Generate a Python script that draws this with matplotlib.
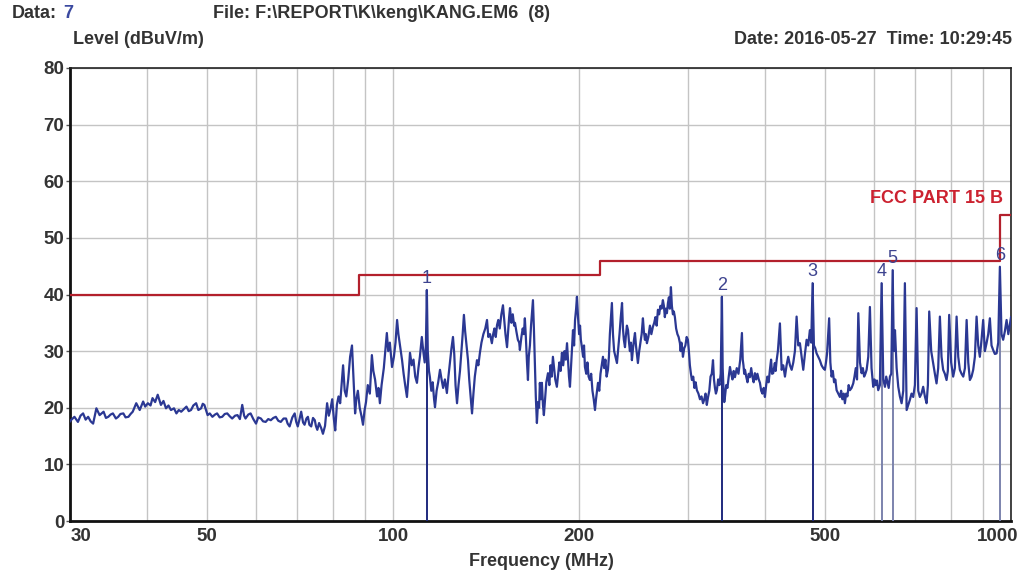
import numpy as np
import matplotlib
matplotlib.use("Agg")
import matplotlib.pyplot as plt
from matplotlib.transforms import ScaledTranslation

plt.rcParams['font.family'] = ['Liberation Sans', 'DejaVu Sans']

freq_a = [30.0, 30.1, 30.5, 30.9, 31.2, 31.5, 31.8, 32.1, 32.4, 32.7, 33.1, 33.5, 34.0, 34.3,
          34.6, 34.9, 35.2, 35.6, 35.9, 36.2, 36.6, 36.9, 37.3, 37.6, 37.9, 38.4, 38.9, 39.4,
          39.7, 40.1, 40.5, 40.8, 41.2, 41.6, 42.1, 42.5, 42.9, 43.3, 43.7, 44.2, 44.6, 45.0,
          45.4, 45.9, 46.3, 46.7, 47.1, 47.5, 48.0, 48.4, 48.9, 49.2, 49.5, 50.1, 50.5, 51.0,
          51.5, 51.9, 52.4, 52.9, 53.4, 53.9, 54.4, 54.9, 55.5, 56.0, 56.5, 57.0, 57.4, 57.7,
          58.3, 58.8, 59.4, 60.0, 60.5, 61.1, 61.6, 62.2, 62.8, 63.4, 64.0, 64.6, 65.2, 65.8,
          66.5, 67.1, 67.5, 68.0, 68.7, 69.3, 69.7, 70.1, 70.5, 71.0, 71.5, 71.9, 72.4, 72.8,
          73.2, 73.7, 74.2, 74.7, 75.0, 75.4, 75.9, 76.5, 77.0, 77.6, 78.2, 78.7, 79.2, 79.7,
          80.2, 80.6]
level_a = [17.6, 17.8, 18.4, 17.5, 18.6, 19.0, 17.9, 18.4, 17.6, 17.2, 19.9, 18.7, 19.3, 18.2,
           18.4, 18.8, 19.0, 18.1, 18.4, 18.9, 19.0, 18.3, 18.4, 18.9, 19.3, 20.8, 19.6, 21.1,
           20.2, 20.8, 20.4, 21.7, 21.0, 22.3, 20.5, 21.2, 19.9, 20.4, 19.6, 19.9, 19.0, 19.6,
           19.3, 19.8, 20.2, 19.4, 19.6, 20.4, 20.8, 19.6, 19.9, 20.7, 20.5, 18.7, 19.0, 18.4,
           18.8, 19.0, 18.3, 18.4, 18.9, 19.0, 18.5, 18.1, 18.6, 18.7, 18.0, 20.5, 18.6, 18.1,
           18.8, 19.0, 18.0, 17.2, 18.3, 18.1, 17.6, 17.5, 18.0, 17.8, 18.2, 18.4, 17.7, 17.5,
           18.1, 18.1, 17.2, 16.7, 18.3, 19.0, 17.5, 16.7, 17.8, 19.3, 17.4, 17.0, 18.1, 18.4,
           17.0, 16.7, 18.2, 17.8, 16.8, 16.1, 17.3, 16.4, 15.4, 16.8, 20.8, 18.6, 19.8, 21.5,
           18.0, 16.0]

freq_b = [81.1, 81.6, 82.1, 82.6, 83.0, 83.5, 84.0, 84.6, 85.2, 85.8, 86.3, 86.8, 87.2, 87.7,
          88.3, 88.9, 89.4, 89.9, 90.4, 91.0, 91.7, 92.4, 92.9, 93.5, 94.2, 94.7, 95.2, 95.8,
          96.6, 97.2, 97.7, 98.2, 98.8, 99.6, 100.3, 100.9, 101.5, 102.0, 102.6, 103.4, 104.0,
          104.6, 105.3, 105.9, 106.5, 107.2, 107.9, 108.6, 109.3, 109.9, 110.5, 111.3, 111.9,
          112.5, 113.0, 113.4, 113.8, 114.3, 114.7, 115.3, 115.9, 116.5, 116.9, 117.6, 118.3,
          119.1, 119.8, 120.5, 121.3, 122.2, 122.9, 123.6, 124.3, 125.0, 125.6, 126.2, 126.9,
          127.6, 128.3, 129.0, 129.6, 130.2, 130.8, 131.5, 132.2, 132.8, 133.5, 134.2, 134.9,
          135.6, 136.7, 137.4, 138.2, 139.0, 140.0, 141.0, 141.9, 142.6, 143.5, 144.5, 145.2,
          145.9, 146.6, 147.3, 148.0, 148.8, 149.7, 150.6, 151.3, 152.0, 152.9, 153.5, 154.1,
          154.6, 155.4, 156.2, 157.0, 157.5, 158.3, 159.2, 160.0, 160.4, 161.3, 162.1, 162.8,
          163.4, 164.0, 164.7, 165.3, 165.8, 166.5, 167.2, 167.9, 168.4, 169.0, 169.6, 170.2,
          170.9, 171.6, 172.3, 172.8, 173.5, 174.1, 174.8, 175.4]
level_b = [20.5, 22.0, 20.8, 24.5, 27.5, 23.0, 22.0, 25.0, 29.0, 31.0, 25.0, 19.0, 21.5, 23.0,
           20.0, 18.5, 17.0, 19.5, 21.0, 24.0, 22.5, 29.3, 26.5, 25.0, 22.0, 23.5, 20.8, 24.0,
           27.0, 30.5, 33.2, 30.0, 31.5, 27.2, 29.0, 31.5, 35.5, 33.0, 31.0, 28.4, 26.0,
           24.0, 21.9, 25.5, 29.7, 27.5, 28.5, 25.5, 24.4, 27.0, 29.0, 32.5, 30.0,
           28.0, 31.0, 40.8, 30.0, 26.5, 25.4, 23.0, 24.5, 21.5, 20.1, 23.0, 24.5,
           26.7, 25.0, 23.5, 25.0, 22.6, 25.5, 28.0, 30.5, 32.5, 29.5, 24.0, 20.8,
           24.0, 26.5, 30.0, 33.0, 36.4, 33.5, 31.0, 28.4, 25.0, 22.0, 19.0, 22.5,
           25.5, 28.4, 27.5, 29.7, 31.5, 33.0, 34.0, 35.5, 32.5, 33.0, 31.4, 33.0,
           34.0, 32.5, 34.6, 35.5, 34.0, 36.5, 38.1, 35.5, 33.0, 30.7, 33.5, 36.0,
           37.6, 35.0, 36.5, 34.5, 35.0, 33.5, 32.0, 31.5, 30.2, 32.5, 34.0, 33.0,
           35.8, 32.5, 28.0, 24.9, 29.0, 31.0, 34.5, 37.0, 39.0, 34.0, 28.0, 22.0,
           17.3, 21.0, 20.0, 24.4, 21.5, 24.4, 20.5, 18.7]

freq_c = [176.3, 177.0, 178.1, 179.0, 179.8, 180.6, 181.4, 182.2, 183.0, 184.1, 185.0, 185.8,
          186.7, 187.6, 188.5, 189.4, 190.3, 191.2, 192.0, 192.6, 193.3, 194.0, 194.7, 195.5,
          196.3, 197.0, 197.8, 198.4, 199.2, 200.0, 200.7, 201.3, 202.1, 203.0, 203.7, 204.4,
          205.4, 206.3, 207.2, 208.2, 209.2, 210.2, 211.2, 212.2, 213.0, 213.8, 214.6, 215.6,
          216.6, 217.6, 218.6, 219.6, 220.6, 221.6, 222.7, 223.5, 224.3, 225.1, 226.0, 226.9,
          227.9, 229.0, 230.3, 231.4, 232.5, 233.6, 234.7, 235.5, 236.3, 237.3, 238.0, 239.0,
          240.0, 240.9, 241.7, 242.6, 243.5, 244.5, 245.4, 246.3, 247.2, 248.1, 249.0, 250.2,
          251.4, 252.5, 253.7, 254.6, 255.6, 256.5, 257.5, 258.9, 260.4, 261.8, 263.3, 264.6,
          265.8, 267.0, 268.3, 269.5, 270.8, 272.0, 273.3, 274.3, 275.3, 276.3, 277.4, 278.5,
          279.5, 280.5, 281.6, 282.6, 283.7, 284.7, 285.8, 287.1, 288.5, 289.8, 291.2, 292.0,
          292.8, 293.7, 294.5, 295.9, 297.2, 298.6, 300.0, 301.1, 302.2, 303.4, 304.5, 306.0,
          307.4, 308.8, 310.2, 312.0, 313.8, 315.6, 317.4, 318.9, 320.4, 321.9, 323.4, 324.9,
          326.4, 327.9, 329.4, 330.6, 331.8, 333.0, 334.2, 335.8, 337.4, 339.0, 340.5, 341.5,
          342.5, 343.5, 344.4, 346.0, 347.6, 349.3, 350.9, 352.5, 354.2, 355.8, 357.5, 359.9,
          362.2, 364.6, 366.9, 368.0, 369.0, 370.0, 371.1, 372.8, 374.6, 376.3, 378.0, 379.8,
          381.5, 383.3, 385.1, 386.9, 388.7, 390.6, 392.4, 394.2, 396.0, 397.9, 399.7, 401.6,
          403.4, 405.3, 407.2, 409.0, 410.5, 412.2, 413.5, 414.8, 416.0, 417.6, 419.5]
level_c = [22.0, 24.5, 26.1, 24.0, 27.5, 25.5, 29.0, 27.0, 25.0, 23.7, 26.0, 28.0,
           26.5, 29.7, 27.5, 30.0, 28.5, 31.4, 28.0, 25.5, 23.7, 27.0, 30.5, 33.7,
           31.0, 35.5, 37.5, 39.6, 36.0, 33.0, 34.5, 32.0, 30.7, 29.0, 31.0, 27.2,
           26.0, 28.0, 25.5, 24.9, 26.0, 23.0, 21.5, 19.6, 21.5, 23.0, 24.4, 23.0,
           26.0, 27.5, 29.0, 27.0, 28.5, 25.5, 26.7, 29.0, 33.0, 35.5, 38.5, 33.0,
           30.0, 29.0, 27.9, 30.5, 33.0, 36.0, 38.5, 34.0, 32.0, 30.7, 32.5, 34.5,
           33.7, 31.5, 30.0, 31.5, 28.4, 30.5, 32.0, 33.2, 31.0, 29.5, 27.9, 30.0,
           31.5, 33.0, 35.8, 33.5, 32.0, 33.0, 31.4, 32.5, 34.5, 33.0, 34.3, 35.0,
           36.0, 34.5, 37.3, 36.5, 38.0, 37.5, 39.0, 38.0, 36.0, 37.5, 36.7, 38.5,
           39.5, 37.5, 41.3, 38.0, 36.5, 37.0, 36.0, 34.0, 33.0, 32.5, 31.4, 30.0,
           31.5, 30.5, 29.0, 30.5, 31.0, 32.5, 32.0, 30.0, 27.5, 26.0, 24.9, 25.5,
           23.5, 24.5, 23.1, 22.5, 21.5, 22.0, 20.8, 21.5, 22.5, 20.5, 21.9, 23.0,
           25.5, 26.0, 28.4, 25.0, 23.5, 22.5, 23.1, 25.0, 24.0, 26.0, 39.6, 27.0,
           23.5, 21.0, 21.9, 24.0, 23.5, 25.5, 27.2, 26.0, 25.0, 26.5, 25.4, 27.0,
           26.0, 28.5, 33.2, 28.5, 27.5, 26.0, 26.7, 25.5, 24.5, 26.0, 25.4, 27.0,
           25.5, 24.5, 26.1, 25.0, 26.0, 25.0, 24.4, 23.0, 22.5, 23.5, 21.9, 24.0,
           25.5, 24.5, 26.7, 28.5, 26.0, 26.1, 27.0, 27.9, 26.5, 28.4, 30.0]

freq_d = [422.7, 425.4, 428.0, 430.7, 433.3, 436.0, 438.8, 441.6, 444.3, 447.0, 449.8, 452.6,
          455.4, 458.3, 461.1, 464.0, 466.9, 469.7, 472.6, 475.0, 477.4, 479.8, 482.2, 484.6,
          487.5, 490.5, 493.6, 496.7, 499.8, 501.8, 503.8, 507.8, 510.1, 512.4, 514.8, 517.2,
          519.6, 522.1, 525.3, 528.6, 531.0, 533.5, 536.0, 538.5, 541.0, 543.6, 546.1, 548.7,
          552.1, 555.5, 558.1, 560.8, 563.4, 566.1, 569.6, 573.1, 575.8, 578.5, 581.2, 583.9,
          587.5, 591.1, 594.7, 598.4, 601.2, 604.0, 606.8, 609.7, 613.5, 617.4, 621.3, 625.2,
          628.1, 631.0, 634.0, 636.9, 640.1, 643.4, 646.2, 649.0, 653.0, 657.0, 661.0, 665.2,
          669.3, 673.4, 677.8, 682.0, 686.1, 690.3, 694.6, 699.0, 703.4, 707.7, 712.0, 716.4,
          720.9, 725.5, 730.1, 733.7, 737.3, 742.8, 748.3, 753.0, 757.7, 762.4, 767.2, 771.9,
          776.6, 781.5, 786.5, 790.3, 794.2, 800.1, 806.1, 811.3, 816.5, 821.5, 826.5, 831.7,
          837.0, 842.3, 847.6, 852.8, 858.0, 863.3, 868.6, 874.1, 879.6, 885.0, 890.4, 896.0,
          901.5, 907.2, 912.9, 918.6, 924.3, 930.0, 935.7, 941.6, 947.6, 953.5, 959.4, 965.3,
          971.2, 977.4, 983.7, 990.0, 995.0, 1000.0]
level_d = [34.9, 26.7, 27.5, 25.5, 27.5, 29.0, 27.5, 26.7, 28.0, 30.0, 36.1, 31.0,
           31.4, 29.0, 26.7, 29.5, 32.0, 31.0, 33.7, 31.5, 42.0, 31.0, 30.5, 29.6,
           29.0, 28.4, 27.5, 27.0, 26.7, 28.0, 29.5, 35.8, 28.0, 25.5, 26.5, 24.5,
           25.0, 23.1, 22.5, 21.9, 23.0, 21.5, 22.5, 20.8, 22.5, 22.0, 24.0, 23.1,
           23.5, 24.3, 25.5, 27.0, 25.0, 36.7, 28.0, 26.1, 27.0, 25.5, 26.0, 26.7,
           29.0, 37.8, 27.0, 23.7, 25.0, 24.0, 24.8, 23.1, 24.0, 42.0, 25.0, 23.7,
           25.5, 24.5, 23.5, 25.5, 26.0, 44.3, 30.0, 33.7, 27.0, 23.7, 22.0, 20.8,
           23.0, 42.0, 19.6, 20.5, 21.4, 22.5, 21.9, 24.0, 37.6, 23.0, 21.9, 22.5,
           23.7, 22.0, 20.8, 24.0, 37.0, 30.0, 27.8, 26.0, 24.3, 27.0, 36.1, 29.0,
           26.7, 26.0, 24.9, 26.5, 36.4, 28.0, 25.5, 27.0, 36.1, 29.0, 26.7, 26.0,
           25.5, 27.0, 35.5, 28.0, 24.9, 25.5, 26.7, 29.0, 36.1, 31.0, 29.0, 32.0,
           35.5, 30.0, 31.4, 33.0, 35.8, 31.0, 30.2, 29.5, 29.6, 31.5, 44.9, 33.0,
           32.0, 33.5, 35.5, 33.0, 34.5, 36.0]

freq = np.array(freq_a + freq_b + freq_c + freq_d)
level = np.array(level_a + level_b + level_c + level_d)

# FCC part 15 B class B limit (step function)
limit_freq = [30, 88, 88, 216, 216, 960, 960, 1000]
limit_level = [40.0, 40.0, 43.5, 43.5, 46.0, 46.0, 54.0, 54.0]

# markers
marker_freq = [113.4, 340.5, 477.4, 617.4, 643.4, 959.4]
marker_level = [40.8, 39.6, 42.0, 42.0, 44.3, 44.9]
marker_names = ['1', '2', '3', '4', '5', '6']

xticks = [30, 50, 100, 200, 500, 1000]
xtick_labels = ['30', '50', '100', '200', '500', '1000']
xminor = [40, 60, 70, 80, 90, 300, 400, 600, 700, 800, 900]
yticks = [0, 10, 20, 30, 40, 50, 60, 70, 80]

W, H = 1033, 574
fig = plt.figure(figsize=(W / 100, H / 100), dpi=100)
ax = fig.add_axes([70 / W, 53 / H, 941 / W, 453 / H])

txt = '#333333'
navy = '#2b3893'

ax.set_xscale('log')
ax.set_xlim(30, 1000)
ax.set_ylim(0, 80)
ax.set_xticks(xticks)
ax.set_xticklabels(xtick_labels)
ax.set_xticks(xminor, minor=True)
ax.set_xticklabels([], minor=True)
ax.set_yticks(yticks)
ax.grid(True, which='both', axis='x', color='#c4c4c4', lw=1.0)
ax.grid(True, which='major', axis='y', color='#c4c4c4', lw=1.0)
ax.set_axisbelow(True)

ax.tick_params(axis='x', which='both', length=0, pad=5, labelsize=13.5, labelcolor=txt)
ax.tick_params(axis='y', length=3, width=1, pad=1, labelsize=13.5, labelcolor=txt, color='#555555')
for lab in ax.get_xticklabels() + ax.get_yticklabels():
    lab.set_fontweight('bold')
xl = ax.get_xticklabels()
xl[0].set_transform(xl[0].get_transform() + ScaledTranslation(0.11, 0, fig.dpi_scale_trans))
xl[-1].set_transform(xl[-1].get_transform() + ScaledTranslation(-0.13, 0, fig.dpi_scale_trans))

for s in ['top', 'right']:
    ax.spines[s].set_linewidth(1.2)
    ax.spines[s].set_color('#222222')
for s in ['left', 'bottom']:
    ax.spines[s].set_linewidth(2.0)
    ax.spines[s].set_color('#111111')

# limit line
ax.plot(limit_freq, limit_level, color='#b3202c', lw=1.6, zorder=3)

# marker drop lines
for i, (f, l) in enumerate(zip(marker_freq, marker_level)):
    c = '#1f2a7e' if i < 3 else '#7c83ad'
    ax.vlines(f, 0, l, color=c, lw=1.4, zorder=4)

# trace
ax.plot(freq, level, color=navy, lw=1.6, zorder=5)

for f, l, n in zip(marker_freq, marker_level, marker_names):
    ax.annotate(n, (f, l), xytext=(0, 2), textcoords='offset points',
                ha='center', va='bottom', fontsize=13, color='#3d438f', zorder=6)

def fx(x):
    return x / W

def fy(y):
    return 1 - y / H

fig.text(fx(12), fy(14), 'Data:', fontsize=13, fontweight='bold', color=txt, va='center')
fig.text(fx(63), fy(14), '7', fontsize=13, fontweight='bold', color='#3b4aa0', va='center')
fig.text(fx(213), fy(14), 'File: F:\\REPORT\\K\\keng\\KANG.EM6  (8)', fontsize=13,
         fontweight='bold', color=txt, va='center')
fig.text(fx(73), fy(39), 'Level (dBuV/m)', fontsize=13, fontweight='bold', color=txt, va='center')
fig.text(fx(1012), fy(39), 'Date: 2016-05-27  Time: 10:29:45', fontsize=13, fontweight='bold',
         color=txt, va='center', ha='right')
fig.text(fx(1003), fy(199), 'FCC PART 15 B', fontsize=13, fontweight='bold', color='#cc2230',
         va='center', ha='right')
fig.text(fx(541), fy(562), 'Frequency (MHz)', fontsize=13, fontweight='bold', color=txt,
         va='center', ha='center')

fig.savefig('out.png', dpi=100)
